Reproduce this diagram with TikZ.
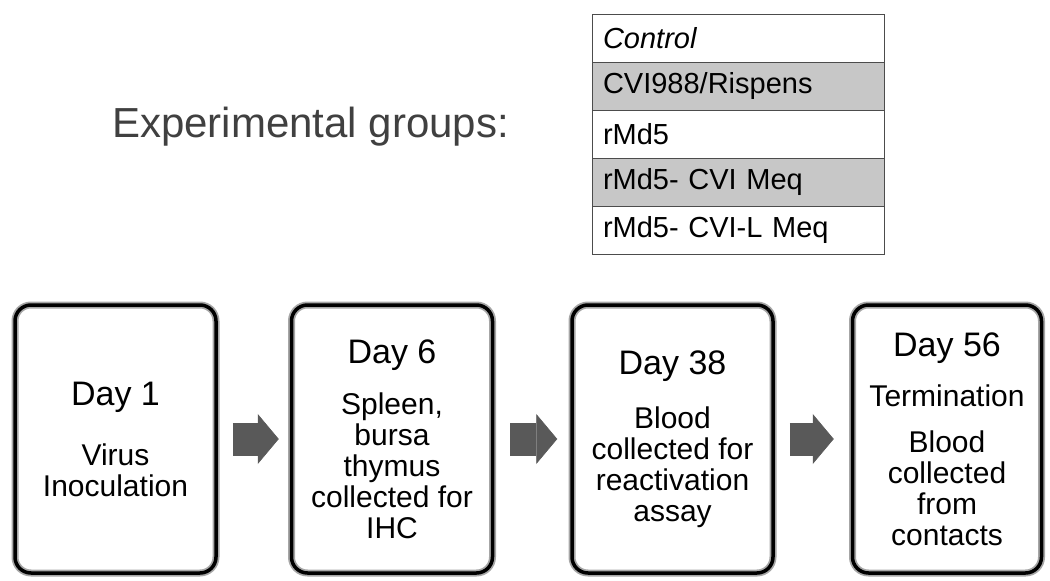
\documentclass[tikz,border=0pt]{standalone}
\usepackage{fontspec}
\setmainfont{Liberation Sans}
\usetikzlibrary{arrows.meta,positioning}
\newcommand{\dayfont}{\fontsize{34}{34}\selectfont}

\begin{document}
\begin{tikzpicture}[x=1pt, y=-1pt,
    node distance=0pt,
    stage/.style={draw, line width=3.5pt, rounded corners=16pt, minimum width=201pt, minimum height=268pt, align=center, font=\fontsize{30}{31}\selectfont, preaction={draw=black!35, line width=7pt}},
    group/.style={draw=black!70, line width=1pt, outer sep=0pt, minimum height=48pt, text width=270pt, inner xsep=11pt, align=left, font=\fontsize{29}{31}\selectfont},
    shaded/.style={group, fill=black!22},
    flow/.style={-{Triangle[width=50pt, length=21pt, line width=0.6pt]}, line width=33pt, draw=black!65}
  ]
  \useasboundingbox (0,0) rectangle (1050,581);

  % Groups
  \node[font=\fontsize{42}{44}\selectfont, text=black!75, anchor=base west, inner sep=0pt] (title) at (112,137) {Experimental groups:};
  \node[group, anchor=north west] (control) at (592,14) {\textit{Control}};
  \node[shaded, below=of control] (cvi) {CVI988/Rispens};
  \node[group, below=of cvi] (md5) {rMd5};
  \node[shaded, below=of md5] (meq) {rMd5- CVI Meq};
  \node[group, below=of meq] (lmeq) {rMd5- CVI-L Meq};

  % Time line
  \node[stage] (day1) at (115.5,439) {{\dayfont Day 1}\\[29pt]Virus\\Inoculation};
  \node[stage, right=72pt of day1] (day6) {{\dayfont Day 6}\\[20pt]Spleen,\\bursa\\thymus\\collected for\\IHC};
  \node[stage, right=76pt of day6] (day38) {{\dayfont Day 38}\\[23pt]Blood\\collected for\\reactivation\\assay};
  \node[stage, right=76pt of day38, minimum width=189pt] (day56) {{\dayfont Day 56}\\[19pt]Termination\\[15pt]Blood\\collected\\from\\contacts};

  % Arrows
  \draw[flow, shorten <=15pt, shorten >=11pt] (day1) -- (day6);
  \draw[flow, shorten <=16pt, shorten >=13pt] (day6) -- (day38);
  \draw[flow, shorten <=15pt, shorten >=17pt] (day38) -- (day56);

\end{tikzpicture}
\end{document}
